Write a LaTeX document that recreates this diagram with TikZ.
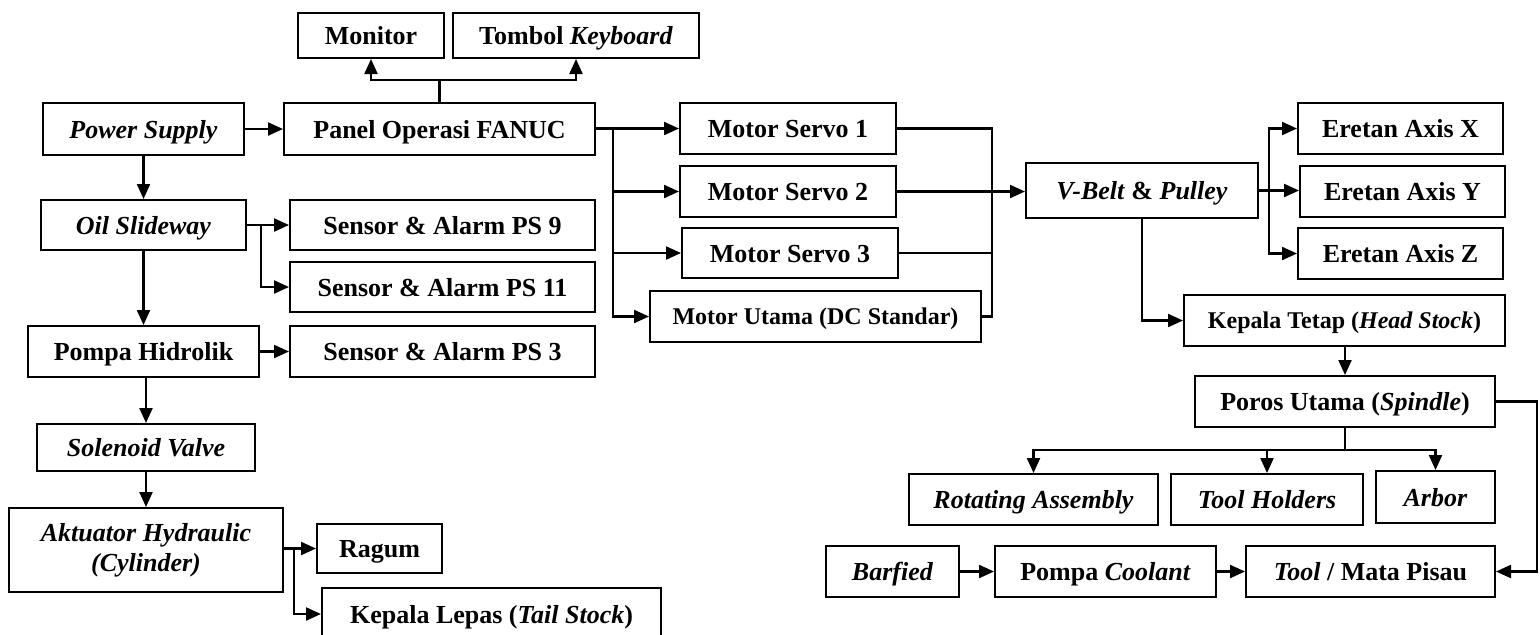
\documentclass[tikz,border=0pt]{standalone}
\usepackage{fontspec}
\setmainfont{Liberation Serif}
\usetikzlibrary{arrows.meta}
\tikzstyle{blok} = [rectangle, draw=black, line width=1pt, minimum height=25.5pt, inner sep=0pt, text height=10.5pt, text depth=1.5pt, text centered, align=center, font=\bfseries\fontsize{13}{15}\selectfont]
\tikzstyle{kecil} = [font=\bfseries\fontsize{12}{14}\selectfont, text height=9.5pt]
\tikzstyle{line} = [line width=1.1pt]
\tikzstyle{arrow} = [line width=1.1pt, -{Triangle[length=7.5pt,width=6.5pt]}]

\begin{document}
\begin{tikzpicture}[x=0.5pt, y=-0.5pt]
\clip (0,0) rectangle (1540,634);
% kiri
\node (power) [blok, minimum width=100.5pt, minimum height=26pt] at (143.5,129) {\textit{Power Supply}};
\node (panel) [blok, minimum width=155.5pt, minimum height=26pt] at (439.5,129) {Panel Operasi FANUC};
\node (monitor) [blok, minimum width=73pt, minimum height=22.5pt] at (371,35.5) {Monitor};
\node (keyboard) [blok, minimum width=123pt, minimum height=22.5pt] at (576,35.5) {Tombol \textit{Keyboard}};
\node (oil) [blok, minimum width=102.5pt, minimum height=25pt] at (143.5,225) {\textit{Oil Slideway}};
\node (ps9) [blok, minimum width=152.5pt, minimum height=25pt] at (442.5,225) {Sensor \& Alarm PS 9};
\node (ps11) [blok, minimum width=152.5pt, minimum height=25pt] at (442.5,287) {Sensor \& Alarm PS 11};
\node (pompa) [blok, minimum width=115.5pt] at (143.5,351.5) {Pompa Hidrolik};
\node (ps3) [blok, minimum width=152.5pt] at (442.5,351.5) {Sensor \& Alarm PS 3};
\node (solenoid) [blok, minimum width=109pt, minimum height=23.5pt] at (146,447.5) {\textit{Solenoid Valve}};
\node (aktuator) [blok, text height={}, text depth={}, minimum width=137pt, minimum height=42pt] at (146,550) {\textit{Aktuator Hydraulic}\\\textit{(Cylinder)}};
\node (ragum) [blok, minimum width=62.5pt, minimum height=24.5pt] at (379.5,548.5) {Ragum};
\node (lepas) [blok, minimum width=169.5pt, minimum height=26pt] at (491.5,614) {Kepala Lepas (\textit{Tail Stock})};
% tengah
\node (servoA) [blok, minimum width=108pt] at (788,128.5) {Motor Servo 1};
\node (servoB) [blok, minimum width=108pt] at (788,191.5) {Motor Servo 2};
\node (servoC) [blok, minimum width=108pt, minimum height=25pt] at (790,253) {Motor Servo 3};
\node (utama) [blok, kecil, minimum width=165.5pt] at (815.5,316.5) {Motor Utama (DC Standar)};
% kanan
\node (vbelt) [blok, minimum width=116pt, minimum height=27.5pt] at (1142,190.5) {\textit{V-Belt} \& \textit{Pulley}};
\node (axisX) [blok, minimum width=102.5pt] at (1400.5,128.5) {Eretan Axis X};
\node (axisY) [blok, minimum width=102.5pt] at (1402.5,191.5) {Eretan Axis Y};
\node (axisZ) [blok, minimum width=102.5pt] at (1400.5,253.5) {Eretan Axis Z};
\node (headstock) [blok, kecil, minimum width=160.5pt] at (1344.5,320.5) {Kepala Tetap (\textit{Head Stock})};
\node (spindle) [blok, minimum width=150pt] at (1345,401.5) {Poros Utama (\textit{Spindle})};
\node (rotating) [blok, minimum width=124.5pt] at (1033.5,499.5) {\textit{Rotating Assembly}};
\node (holders) [blok, minimum width=96pt] at (1267,499.5) {\textit{Tool Holders}};
\node (arbor) [blok, minimum width=59.5pt, minimum height=26pt] at (1435.5,497) {\textit{Arbor}};
\node (barfied) [blok, minimum width=66.5pt] at (892.5,571.5) {\textit{Barfied}};
\node (coolant) [blok, minimum width=110.5pt] at (1105.5,571.5) {Pompa \textit{Coolant}};
\node (tool) [blok, minimum width=124.5pt] at (1370.5,571.5) {\textit{Tool} / Mata Pisau};

% titik cabang
\coordinate (panelup) at (439.5,80);
\coordinate (panelfork) at (613,128.5);
\coordinate (oilfork) at (261,225);
\coordinate (aktfork) at (294,549);
\coordinate (merge) at (992,191.5);
\coordinate (vfork) at (1269,191);
\coordinate (sfork) at (1345,450);
\coordinate (rcorner) at (1537,401.5);

\draw [arrow](power) -- (panel);
\draw [line](panel.north) -- (panelup);
\draw [arrow](panelup) -| (monitor);
\draw [arrow](panelup) -| (keyboard);
\draw [arrow](power) -- (oil);
\draw [arrow](oil) -- (ps9);
\draw [arrow](oilfork) |- (ps11);
\draw [arrow](oil) -- (pompa);
\draw [arrow](pompa) -- (ps3);
\draw [arrow](solenoid.north |- pompa.south) -- (solenoid.north);
\draw [arrow](solenoid) -- (aktuator);
\draw [arrow](aktuator.east |- ragum) -- (ragum);
\draw [arrow](aktfork) |- (lepas);

\draw [arrow](panel.east |- servoA) -- (servoA);
\draw [arrow](panelfork) |- (servoB);
\draw [arrow](panelfork) |- (servoC);
\draw [arrow](panelfork) |- (utama);
\draw [line](servoA) -| (merge);
\draw [line](servoC) -| (merge);
\draw [line](utama) -| (merge);
\draw [arrow](servoB.east) -- (servoB.east -| vbelt.west);

\draw [arrow](vbelt) -- (vbelt -| axisY.west);
\draw [arrow](vfork) |- (axisX);
\draw [arrow](vfork) |- (axisZ);
\draw [arrow](vbelt.south) |- (headstock);
\draw [arrow](headstock.south -| spindle) -- (spindle);
\draw [line](spindle) -- (sfork);
\draw [arrow](sfork) -| (rotating);
\draw [arrow](sfork) -| (holders);
\draw [arrow](sfork) -| (arbor);
\draw [arrow](spindle) -- (rcorner) |- (tool);
\draw [arrow](barfied) -- (coolant);
\draw [arrow](coolant) -- (tool);
\end{tikzpicture}
\end{document}
